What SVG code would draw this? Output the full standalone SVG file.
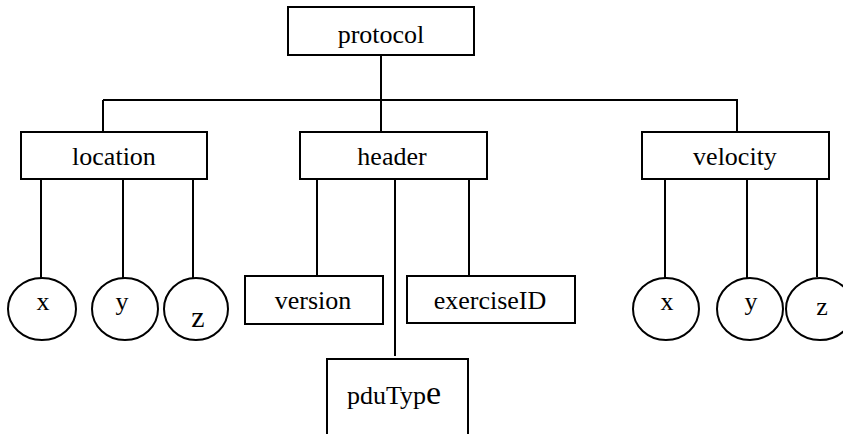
<svg xmlns="http://www.w3.org/2000/svg" width="843" height="434" viewBox="0 0 843 434">
<style>
.box{fill:#fff;stroke:#000;stroke-width:2}
.ell{fill:#fff;stroke:#000;stroke-width:2}
.ln{stroke:#000;stroke-width:2;fill:none}
text{font-family:"Liberation Serif","Times New Roman",serif;font-size:26px;fill:#000;text-anchor:middle}
</style>
<rect width="843" height="434" fill="#fff"/>
<g id="connectors">
<line class="ln" x1="381" y1="55" x2="381" y2="132"/>
<line class="ln" x1="103" y1="100" x2="738" y2="100"/>
<line class="ln" x1="103" y1="100" x2="103" y2="132"/>
<line class="ln" x1="737" y1="100" x2="737" y2="132"/>
<line class="ln" x1="41" y1="179" x2="41" y2="278"/>
<line class="ln" x1="123" y1="179" x2="123" y2="278"/>
<line class="ln" x1="193" y1="179" x2="193" y2="278"/>
<line class="ln" x1="317" y1="179" x2="317" y2="276"/>
<line class="ln" x1="395" y1="179" x2="395" y2="356"/>
<line class="ln" x1="469" y1="179" x2="469" y2="276"/>
<line class="ln" x1="665" y1="179" x2="665" y2="278"/>
<line class="ln" x1="747" y1="179" x2="747" y2="278"/>
<line class="ln" x1="817" y1="179" x2="817" y2="277"/>
</g>
<g id="protocol"><rect class="box" x="288" y="7" width="186" height="48"/><text x="381" y="43">protocol</text></g>
<g id="location"><rect class="box" x="21" y="132" width="186" height="47"/><text x="114" y="165">location</text></g>
<g id="header"><rect class="box" x="300" y="132" width="187" height="47"/><text x="392" y="165">header</text></g>
<g id="velocity"><rect class="box" x="642" y="132" width="187" height="47"/><text x="735" y="165">velocity</text></g>
<g id="loc-x"><ellipse class="ell" cx="42" cy="309" rx="34" ry="31"/><text x="43" y="310">x</text></g>
<g id="loc-y"><ellipse class="ell" cx="125" cy="309" rx="33" ry="31"/><text x="122" y="310">y</text></g>
<g id="loc-z"><ellipse class="ell" cx="196" cy="309" rx="32" ry="31"/><text x="198" y="327" style="font-size:30px">z</text></g>
<g id="version"><rect class="box" x="245" y="276" width="138" height="48"/><text x="313" y="309">version</text></g>
<g id="exerciseID"><rect class="box" x="407" y="276" width="168" height="47"/><text x="490" y="309">exerciseID</text></g>
<g id="pduType"><rect class="box" x="327" y="359" width="141" height="90"/><text x="347" y="404" style="text-anchor:start">pduTyp<tspan style="font-size:34px">e</tspan></text></g>
<g id="vel-x"><ellipse class="ell" cx="666" cy="309" rx="33" ry="31"/><text x="667" y="310">x</text></g>
<g id="vel-y"><ellipse class="ell" cx="750" cy="309" rx="33" ry="31"/><text x="751" y="310">y</text></g>
<g id="vel-z"><ellipse class="ell" cx="820" cy="309" rx="34" ry="31"/><text x="822" y="315">z</text></g>
</svg>
